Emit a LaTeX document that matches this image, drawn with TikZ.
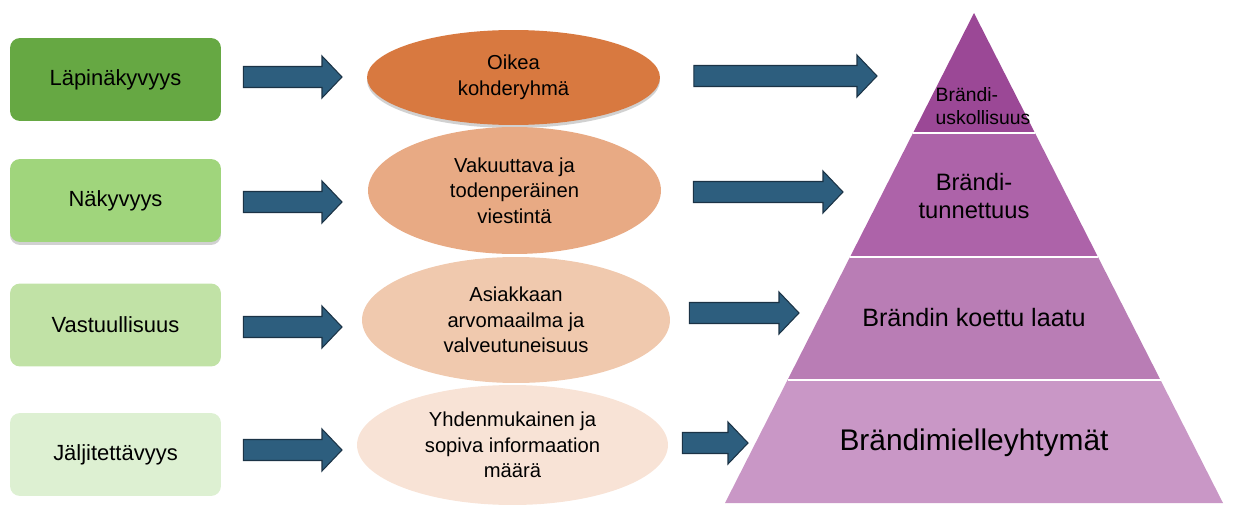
\documentclass[tikz,border=0pt]{standalone}
\usepackage{fontspec}
\setmainfont{Liberation Sans}
\usetikzlibrary{calc,shapes.geometric,shadows}
\definecolor{greenA}{RGB}{102,168,67}
\definecolor{greenB}{RGB}{160,213,124}
\definecolor{greenC}{RGB}{193,226,166}
\definecolor{greenD}{RGB}{221,240,210}
\definecolor{orangeA}{RGB}{216,121,64}
\definecolor{orangeB}{RGB}{232,170,132}
\definecolor{orangeC}{RGB}{240,201,174}
\definecolor{orangeD}{RGB}{248,227,214}
\definecolor{pyrA}{RGB}{155,72,150}
\definecolor{pyrB}{RGB}{173,99,169}
\definecolor{pyrC}{RGB}{185,125,181}
\definecolor{pyrD}{RGB}{201,151,198}
\definecolor{arrowfill}{RGB}{45,94,126}
\definecolor{arrowline}{RGB}{27,51,70}

\begin{document}
\begin{tikzpicture}[x=0.02cm,y=-0.02cm,
      lbox/.style={rounded corners=0.2cm,minimum width=4.22cm,minimum height=1.66cm,
        font=\fontsize{12.5}{15}\selectfont},
      oval/.style={ellipse,inner sep=0pt,align=center,font=\fontsize{11.5}{14.5}\selectfont},
      shade/.style={drop shadow={shadow xshift=0cm,shadow yshift=-0.06cm,opacity=0.3,fill=black!60}},
      blockarr/.style={fill=arrowfill,draw=arrowline,line width=0.6pt,
        to path={let \p1=(\tikztostart), \p2=(\tikztotarget) in
          (\x1,\y2+0.21cm) -- (\x2-0.4cm,\y2+0.21cm) -- (\x2-0.4cm,\y2+0.42cm) -- (\x2,\y2)
          -- (\x2-0.4cm,\y2-0.42cm) -- (\x2-0.4cm,\y2-0.21cm) -- (\x1,\y2-0.21cm) -- cycle}}]
      \useasboundingbox (0,0) rectangle (1255,507);

      % vasen sarake
      \node[lbox,fill=greenA] (l1) at (115.5,79.5) {Läpinäkyvyys};
      \node[lbox,fill=greenB,shade] (l2) at (115.5,200.5) {Näkyvyys};
      \node[lbox,fill=greenC] (l3) at (115.5,325) {Vastuullisuus};
      \node[lbox,fill=greenD] (l4) at (115.5,454.5) {Jäljitettävyys};

      % keskisarake
      \node[oval,fill=orangeA,shade,minimum width=5.86cm,minimum height=1.9cm] (e1) at (513.5,77.5) {Oikea\\kohderyhmä};
      \node[oval,fill=orangeB,minimum width=5.86cm,minimum height=2.54cm] (e2) at (514.5,190.5) {Vakuuttava ja\\todenperäinen\\viestintä};
      \node[oval,fill=orangeC,minimum width=6.16cm,minimum height=2.52cm] (e3) at (516,320) {Asiakkaan\\arvomaailma ja\\valveutuneisuus};
      \node[oval,fill=orangeD,minimum width=6.22cm,minimum height=2.4cm] (e4) at (512.5,445) {Yhdenmukainen ja\\sopiva informaation\\määrä};

      % pyramidi
      \coordinate (top) at (974,13);
      \coordinate (bl) at (725,503);
      \coordinate (br) at (1223,503);
      \foreach \a/\b/\c in {0/0.245/pyrA,0.245/0.498/pyrB,0.498/0.749/pyrC,0.749/1/pyrD}
        \fill[\c] ($(top)!\a!(bl)$) -- ($(top)!\a!(br)$) -- ($(top)!\b!(br)$) -- ($(top)!\b!(bl)$) -- cycle;
      \foreach \a in {0.245,0.498,0.749}
        \draw[white,line width=1.3pt] ($(top)!\a!(bl)$) -- ($(top)!\a!(br)$);
      \node[align=left,font=\fontsize{11}{13}\selectfont] (p1) at (983,106) {Brändi-\\uskollisuus};
      \node[align=center,font=\fontsize{13.5}{16}\selectfont] (p2) at (974,196) {Brändi-\\tunnettuus};
      \node[font=\fontsize{14.3}{17}\selectfont] (p3) at (974,318) {Brändin koettu laatu};
      \node[font=\fontsize{17}{20}\selectfont] (p4) at (974,443) {Brändimielleyhtymät};

      % nuolet
      \coordinate (t1) at (342,77);
      \coordinate (t2) at (342,202);
      \coordinate (t3) at (342,327);
      \coordinate (t4) at (342,450);
      \coordinate (u1) at (877,76);
      \coordinate (u2) at (843,192);
      \coordinate (u3) at (799,313);
      \coordinate (u4) at (748,443);
      \draw[blockarr] ([xshift=0.44cm]l1.east) to (t1);
      \draw[blockarr] ([xshift=0.44cm]l2.east) to (t2);
      \draw[blockarr] ([xshift=0.44cm]l3.east) to (t3);
      \draw[blockarr] ([xshift=0.44cm]l4.east) to (t4);
      \draw[blockarr] ([xshift=0.67cm]e1.east) to (u1);
      \draw[blockarr] ([xshift=0.64cm]e2.east) to (u2);
      \draw[blockarr] ([xshift=0.38cm]e3.east) to (u3);
      \draw[blockarr] ([xshift=0.28cm]e4.east) to (u4);
    \end{tikzpicture}
\end{document}
